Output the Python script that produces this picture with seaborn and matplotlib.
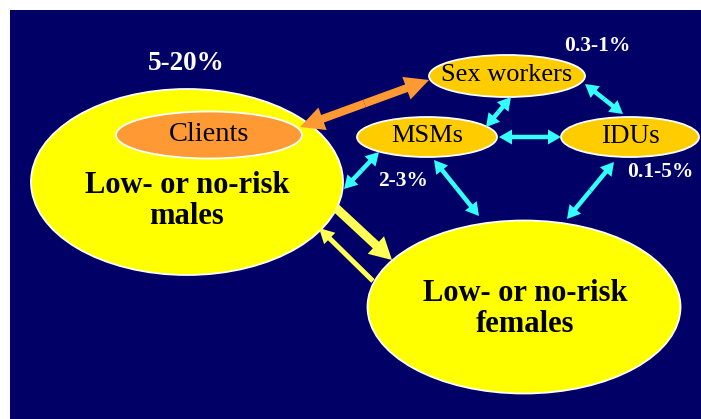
import matplotlib
matplotlib.use("Agg")
import matplotlib.pyplot as plt
import matplotlib.patches as mpatches
import numpy as np
import seaborn as sns

sns.set_theme(style="white")
plt.rcParams['font.family'] = ['Liberation Serif', 'DejaVu Serif']

# ---- data ----
group_names = ["Low- or no-risk\nmales", "Low- or no-risk\nfemales"]
subgroup_names = ["Clients", "Sex workers", "MSMs", "IDUs"]
prevalence_labels = ["5-20%", "0.3-1%", "2-3%", "0.1-5%"]
links_cyan = [("Sex workers", "MSMs"), ("Sex workers", "IDUs"), ("MSMs", "IDUs"),
              ("MSMs", "males"), ("MSMs", "females"), ("IDUs", "females")]

# ---- layout (pixel coordinates) ----
W, H = 701, 419
fig = plt.figure(figsize=(W / 100, H / 100), dpi=100)
fig.patch.set_facecolor("white")
ax = fig.add_axes([0, 0, 1, 1])
ax.set_xlim(0, W)
ax.set_ylim(H, 0)
ax.axis("off")

NAVY = "#000066"
YELLOW = "#FFFF00"
GOLD = "#FFCC00"
ORANGE = "#FF9933"
CYAN = "#33FFFF"
LYELLOW = "#FFFF55"

ax.add_patch(mpatches.Rectangle((10, 10), W - 10, H - 10, facecolor=NAVY, edgecolor="none", zorder=0))

def ell(cx, cy, w, h, fc, z=2):
    ax.add_patch(mpatches.Ellipse((cx, cy), w, h, facecolor=fc, edgecolor="white", lw=1.3, zorder=z))

# big groups
ell(187, 182, 312, 186, YELLOW)
ell(524, 307, 313, 173, YELLOW)
ax.text(187, 201, group_names[0], ha="center", va="center", fontsize=22, fontweight="bold",
        color="black", linespacing=1.1, zorder=5)
ax.text(525, 309, group_names[1], ha="center", va="center", fontsize=22, fontweight="bold",
        color="black", linespacing=1.1, zorder=5)

# subgroups
sub_pos = {"Clients": (209, 135, 186, 47, ORANGE, 20.5),
           "Sex workers": (507, 76, 156, 42, GOLD, 19),
           "MSMs": (427, 137, 140, 40, GOLD, 19),
           "IDUs": (630, 137, 138, 40, GOLD, 19.5)}
for name in subgroup_names:
    cx, cy, w, h, c, fs = sub_pos[name]
    ell(cx, cy, w, h, c, z=3)
    ax.text(cx, cy - 1, name, ha="center", va="center", fontsize=fs, color="black", zorder=5)

# prevalence labels
lab_pos = [(186, 63, 19.5), (597, 46, 15.5), (403, 181, 15.5), (660, 172, 15.5)]
for t, (x, y, fs) in zip(prevalence_labels, lab_pos):
    ax.text(x, y, t, ha="center", va="center", fontsize=fs, fontweight="bold", color="white", zorder=5)

def single(p1, p2, w, hw, hl, c):
    p1 = np.array(p1, float); p2 = np.array(p2, float)
    d = p2 - p1
    ax.add_patch(mpatches.FancyArrow(p1[0], p1[1], d[0], d[1], width=w, head_width=hw,
                                     head_length=hl, length_includes_head=True,
                                     color=c, lw=0, zorder=6))

def double(p1, p2, w, hw, hl, c):
    m = (np.array(p1, float) + np.array(p2, float)) / 2
    single(m, p2, w, hw, hl, c)
    single(m, p1, w, hw, hl, c)

# orange clients <-> sex workers
double((300, 127), (429, 80), 8, 24, 24, ORANGE)

cyan_ends = {("Sex workers", "MSMs"): ((511, 97), (486, 127)),
             ("Sex workers", "IDUs"): ((585, 84), (623, 114)),
             ("MSMs", "IDUs"): ((499, 137), (561, 137)),
             ("MSMs", "males"): ((379, 152), (344, 189)),
             ("MSMs", "females"): ((434, 160), (479, 216)),
             ("IDUs", "females"): ((614, 162), (567, 219))}
for lk in links_cyan:
    a, b = cyan_ends[lk]
    double(a, b, 4.5, 15, 13, CYAN)

# yellow flows between males and females
single((336, 208), (392, 260), 9, 24, 22, LYELLOW)
single((373, 281), (319, 228), 5, 16, 15, LYELLOW)

fig.savefig("out.png", dpi=100, facecolor="white")
